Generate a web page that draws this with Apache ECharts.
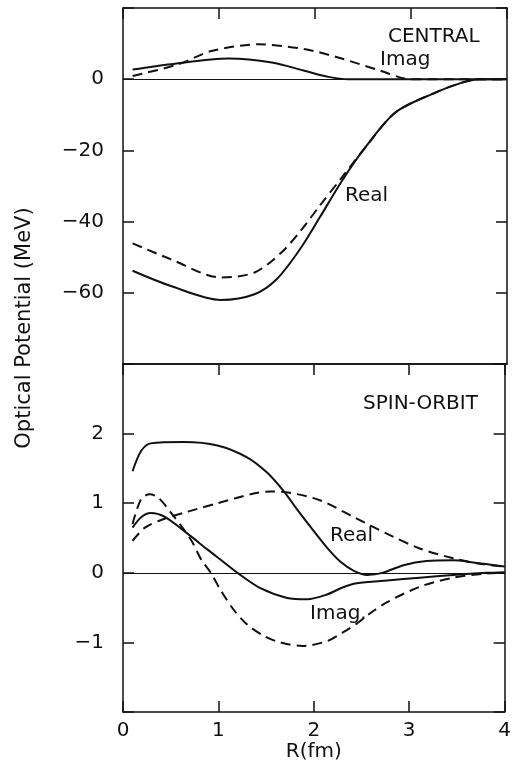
<!DOCTYPE html>
<html>
<head>
<meta charset="utf-8">
<script src="https://cdn.jsdelivr.net/npm/echarts@6/dist/echarts.min.js"></script>
<style>
  html, body { margin: 0; padding: 0; background: #fff; }
  #chart { width: 514px; height: 763px; }
</style>
</head>
<body>
<div id="chart"></div>
<script>
// R (fm) ticks
var xTicks = [0, 1, 2, 3, 4];

// central potential (MeV), [R, V]
var centralRealSolid = [[0.1,-53.8],[0.5,-58.1],[1.02,-62.0],[1.37,-60.4],[1.6,-56.2],[1.85,-47.5],[2.05,-38.8],[2.28,-28.6],[2.5,-20.0],[2.84,-9.3],[3.26,-3.7],[3.54,-0.9],[3.72,0],[4.0,0]];
var centralRealDash = [[0.1,-46.1],[0.5,-50.6],[1.02,-55.7],[1.37,-54.3],[1.65,-48.7],[1.85,-42.6],[2.05,-35.5],[2.28,-27.6],[2.5,-20.0],[2.84,-9.3],[3.26,-3.7],[3.54,-0.9],[3.72,0],[4.0,0]];
var centralImagSolid = [[0.1,2.7],[0.5,4.2],[1.1,5.8],[1.55,4.7],[1.9,2.3],[2.14,0.65],[2.35,0],[4.0,0]];
var centralImagDash = [[0.1,0.9],[0.58,4.2],[0.92,7.9],[1.41,9.8],[1.9,8.4],[2.24,6.1],[2.69,2.3],[2.93,0.2],[3.05,0],[4.0,0]];

// spin-orbit potential (MeV), [R, V]
var soRealSolid = [[0.1,1.46],[0.19,1.75],[0.29,1.86],[0.64,1.88],[0.99,1.83],[1.3,1.66],[1.51,1.44],[1.68,1.18],[1.82,0.92],[2.0,0.6],[2.14,0.36],[2.28,0.16],[2.42,0.03],[2.56,-0.03],[2.72,0.0],[2.94,0.11],[3.18,0.17],[3.46,0.18],[3.67,0.15],[4.0,0.09]];
var soRealDash = [[0.1,0.46],[0.23,0.65],[0.4,0.76],[0.68,0.88],[0.99,1.0],[1.37,1.14],[1.55,1.17],[1.75,1.15],[2.07,1.04],[2.42,0.8],[2.77,0.56],[3.11,0.35],[3.46,0.21],[3.74,0.13],[4.0,0.09]];
var soImagSolid = [[0.1,0.65],[0.19,0.8],[0.29,0.86],[0.43,0.81],[0.68,0.56],[0.89,0.33],[1.06,0.15],[1.2,0.0],[1.44,-0.22],[1.72,-0.36],[1.93,-0.38],[2.14,-0.31],[2.3,-0.21],[2.45,-0.15],[2.77,-0.11],[3.11,-0.07],[3.46,-0.03],[3.81,0.0],[4.0,0.01]];
var soImagDash = [[0.1,0.7],[0.19,1.06],[0.28,1.13],[0.37,1.08],[0.5,0.87],[0.71,0.48],[0.82,0.19],[0.92,0.0],[1.02,-0.24],[1.16,-0.53],[1.3,-0.74],[1.48,-0.91],[1.65,-1.0],[1.88,-1.05],[2.14,-0.98],[2.3,-0.86],[2.45,-0.73],[2.59,-0.58],[2.77,-0.42],[3.11,-0.2],[3.46,-0.07],[3.81,-0.01],[4.0,0.0]];

var FONT = 'DejaVu Sans';
var INK = '#111';

function minus(v) { return String(v).replace('-', '\u2212'); }

var chart = echarts.init(document.getElementById('chart'));

function frameX(grid, pos, labels) {
    return {
        type: 'value', gridIndex: grid, position: pos, min: 0, max: 4, interval: 1,
        axisLine: { show: true, onZero: false, lineStyle: { color: INK, width: 1.5 } },
        axisTick: { show: pos === 'top' || grid === 1, inside: true, length: 11, lineStyle: { color: INK, width: 1.5 } },
        axisLabel: { show: labels, margin: 9, color: INK, fontFamily: FONT, fontSize: 20 },
        splitLine: { show: false }
    };
}

function frameY(grid, pos, min, max, step, labels) {
    return {
        type: 'value', gridIndex: grid, position: pos, min: min, max: max, interval: step,
        axisLine: { show: true, onZero: false, lineStyle: { color: INK, width: 1.5 } },
        axisTick: { show: true, inside: true, length: 11, lineStyle: { color: INK, width: 1.5 } },
        axisLabel: {
            show: labels, margin: 19, color: INK, fontFamily: FONT, fontSize: 20,
            formatter: function (v) { return (v === min || v === max) ? '' : minus(v); }
        },
        splitLine: { show: false }
    };
}

function curve(data, xi, yi, dashed, zero) {
    var s = {
        type: 'line', data: data, xAxisIndex: xi, yAxisIndex: yi,
        smooth: 0.3, showSymbol: false, symbol: 'none', silent: true,
        lineStyle: { color: INK, width: 2, type: dashed ? [10, 6] : 'solid' }
    };
    if (zero) {
        s.markLine = {
            silent: true, symbol: 'none', label: { show: false },
            lineStyle: { color: INK, width: 1, type: 'solid' },
            data: [{ yAxis: 0 }]
        };
    }
    return s;
}

function note(text, x, y) {
    return {
        type: 'text', x: x, y: y,
        style: { text: text, fill: INK, font: '20px "DejaVu Sans"', verticalAlign: 'middle' }
    };
}

var option = {
    animation: false,
    backgroundColor: '#fff',
    grid: [
        { left: 123, right: 7, top: 8, height: 356 },
        { left: 123, right: 7, top: 364, height: 349 }
    ],
    xAxis: [
        frameX(0, 'bottom', false),
        frameX(0, 'top', false),
        Object.assign(frameX(1, 'bottom', true), {
            name: 'R(fm)', nameLocation: 'middle', nameGap: 27,
            nameTextStyle: { color: INK, fontFamily: FONT, fontSize: 20 }
        }),
        frameX(1, 'top', false)
    ],
    yAxis: [
        frameY(0, 'left', -80, 20, 20, true),
        frameY(0, 'right', -80, 20, 20, false),
        frameY(1, 'left', -2, 3, 1, true),
        frameY(1, 'right', -2, 3, 1, false)
    ],
    series: [
        curve(centralRealSolid, 0, 0, false, true),
        curve(centralRealDash, 0, 0, true),
        curve(centralImagSolid, 0, 0, false),
        curve(centralImagDash, 0, 0, true),
        curve(soRealSolid, 2, 2, false, true),
        curve(soRealDash, 2, 2, true),
        curve(soImagSolid, 2, 2, false),
        curve(soImagDash, 2, 2, true)
    ],
    graphic: [
        note('CENTRAL', 388, 37),
        note('Imag', 380, 60),
        note('Real', 345, 196),
        note('SPIN-ORBIT', 363, 404),
        note('Real', 330, 536),
        note('Imag.', 310, 614),
        {
            type: 'text', x: 25, y: 328, rotation: Math.PI / 2,
            style: {
                text: 'Optical Potential (MeV)', fill: INK, font: '21px "DejaVu Sans"',
                align: 'center', verticalAlign: 'middle'
            }
        }
    ]
};

chart.setOption(option);
</script>
</body>
</html>
